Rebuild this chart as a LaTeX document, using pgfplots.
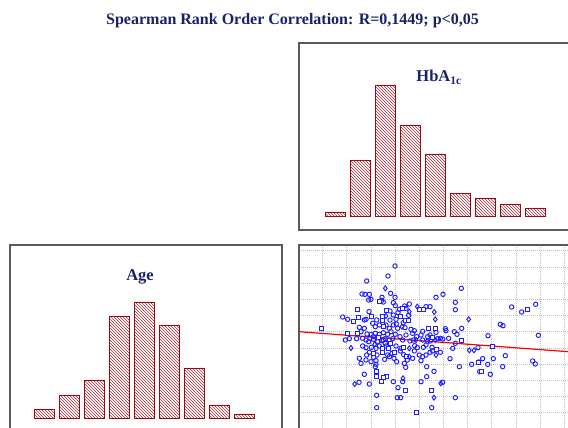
\documentclass[border=0pt]{standalone}
\usepackage{pgfplots}
\pgfplotsset{compat=1.18}
\usetikzlibrary{patterns}
\usepackage{fontspec}
\setmainfont{Liberation Serif}
\definecolor{barred}{RGB}{150,10,20}
\definecolor{navy}{RGB}{25,35,100}
\definecolor{framegray}{RGB}{90,90,90}
\definecolor{ptblue}{RGB}{30,30,255}
\begin{document}
\begin{tikzpicture}[x=1pt,y=1pt]
\useasboundingbox (0,0) rectangle (568,428);
\clip (0,0) rectangle (568,428);
\pgfplotsset{
  histo/.style={scale only axis, width=272pt, height=187pt, anchor=south west,
    axis line style={framegray, line width=1.2pt}, xtick=\empty, ytick=\empty,
    ybar, bar width=0.8, bar shift=0pt, xmin=-0.44, xmax=10.44, ymin=-14, ymax=173, clip=false},
  histbar/.style={draw=barred, line width=0.8pt, pattern=north west lines, pattern color=barred!85},
  pts/.style={only marks, mark size=#1, mark options={draw=ptblue, line width=0.95pt}}
}
\node[font=\bfseries\fontsize{16}{18}\selectfont, text=navy] at (292.5,407) {Spearman Rank Order Correlation: R=0,1449; p<0,05};
% HbA1c histogram
\begin{axis}[histo, at={(299pt,198pt)}]
\addplot[histbar] coordinates {(1,4) (2,56) (3,131) (4,91) (5,62) (6,23) (7,18) (8,12) (9,8)};
\node[font=\bfseries\fontsize{16.5}{18}\selectfont, text=navy] at (rel axis cs:0.515,0.815) {HbA\textsubscript{1c}};
\end{axis}
% Age histogram
\begin{axis}[histo, at={(10pt,-4pt)}, xmin=-0.38, xmax=10.5]
\addplot[histbar] coordinates {(1,9) (2,23) (3,38) (4,102) (5,116) (6,93) (7,50) (8,13) (9,4)};
\node[font=\bfseries\fontsize{16.5}{18}\selectfont, text=navy] at (rel axis cs:0.478,0.829) {Age};
\end{axis}
% Scatter
\begin{axis}[scale only axis, width=272pt, height=187pt, anchor=south west, at={(299pt,-4pt)},
  axis line style={framegray, line width=1.2pt},
  xmin=9, xmax=825, ymin=15, ymax=576, y dir=reverse,
  xtick={80,152.5,225,297.5,370,442.5,515,587.5,660,732.5,805},
  ytick={32,80.6,129.2,177.8,226.4,275,323.6,372.2,420.8,469.4,518},
  xticklabels={}, yticklabels={}, major tick length=0pt,
  grid=major, grid style={gray!50, dash pattern=on 1pt off 1pt, line width=0.7pt}]
\addplot[red, line width=1.2pt] coordinates {(9,275) (825,335.7)};
\addplot[pts=2.2pt, mark=o] coordinates {
(297,78) (276,108) (212,123) (496,145) (441,163) (420,172) (198,162) (207,163) (220,163)
(284,160) (225,178) (218,180) (258,172) (297,172) (262,186) (257,181) (292,188) (478,187)
(340,192) (326,198) (390,200) (402,200) (219,215) (282,213) (310,208) (330,205) (478,209)
(298,197) (647,201) (677,216) (719,193) (140,231) (155,238) (205,240) (210,238) (242,240)
(282,240) (292,225) (300,238) (306,218) (338,226) (613,253) (621,257) (238,260) (250,255)
(270,255) (280,265) (292,255) (301,252) (305,265) (327,263) (345,268) (355,272) (205,265)
(195,275) (420,277) (448,266) (450,272) (475,275) (483,283) (497,265) (380,274) (213,282)
(226,283) (238,280) (250,283) (262,278) (275,283) (298,283) (312,290) (330,285) (350,280)
(362,290) (375,285) (395,290) (402,285) (425,296) (433,295) (458,295) (576,287) (727,286)
(148,300) (160,296) (182,296) (200,295) (210,300) (222,295) (232,298) (258,302) (268,296)
(280,300) (290,296) (320,300) (342,303) (380,300) (395,304) (403,303) (440,297) (478,310)
(200,318) (210,323) (226,322) (250,318) (270,318) (300,318) (315,325) (356,317) (364,323)
(382,322) (390,315) (408,322) (470,325) (546,323) (220,337) (275,345) (288,340) (313,333)
(323,344) (355,333) (370,345) (380,350) (390,345) (402,337) (410,333) (433,337) (243,345)
(233,352) (212,345) (628,347) (190,355) (195,370) (210,360) (225,365) (240,362) (266,358)
(280,350) (294,355) (302,365) (325,370) (334,360) (375,362) (462,356) (560,356) (548,366)
(575,373) (592,356) (527,373) (620,380) (710,363) (718,372) (490,380) (392,380) (240,373)
(238,380) (329,382) (551,395) (583,403) (414,394) (205,403) (320,425) (392,410) (292,425)
(189,427) (220,432) (375,425) (440,427) (306,443) (242,466) (304,473) (314,473) (478,473)
(242,503) (407,503) (232,290) (245,305) (268,310) (285,275) (240,325) (230,250) (322,248)
(352,300) (262,300) (190,262) (350,355) (218,305)};
\addplot[only marks, mark=square*, mark size=2pt, mark options={draw=ptblue, fill=white, line width=0.95pt}] coordinates {
(250,183) (185,209) (270,210) (318,205) (370,208) (383,209) (693,209) (172,245) (186,232)
(225,230) (258,230) (258,240) (314,228) (327,240) (338,240) (76,264) (262,260) (398,264)
(418,264) (155,280) (185,280) (410,292) (497,302) (258,325) (278,325) (323,322) (420,328)
(590,318) (233,340) (258,338) (295,337) (330,350) (547,368) (556,394) (242,395) (271,410)
(241,410) (262,412) (257,425) (329,450) (407,450) (362,518) (282,310) (248,292)};
\addplot[pts=2.5pt, mark=diamond] coordinates {
(268,145) (364,200) (415,216) (270,228) (340,215) (418,238) (518,238) (318,260) (360,300)
(418,300) (165,324) (236,313) (340,325) (520,331) (534,331) (340,350) (420,345) (321,415)
(176,432) (434,430) (414,473)};
\end{axis}
\end{tikzpicture}
\end{document}
